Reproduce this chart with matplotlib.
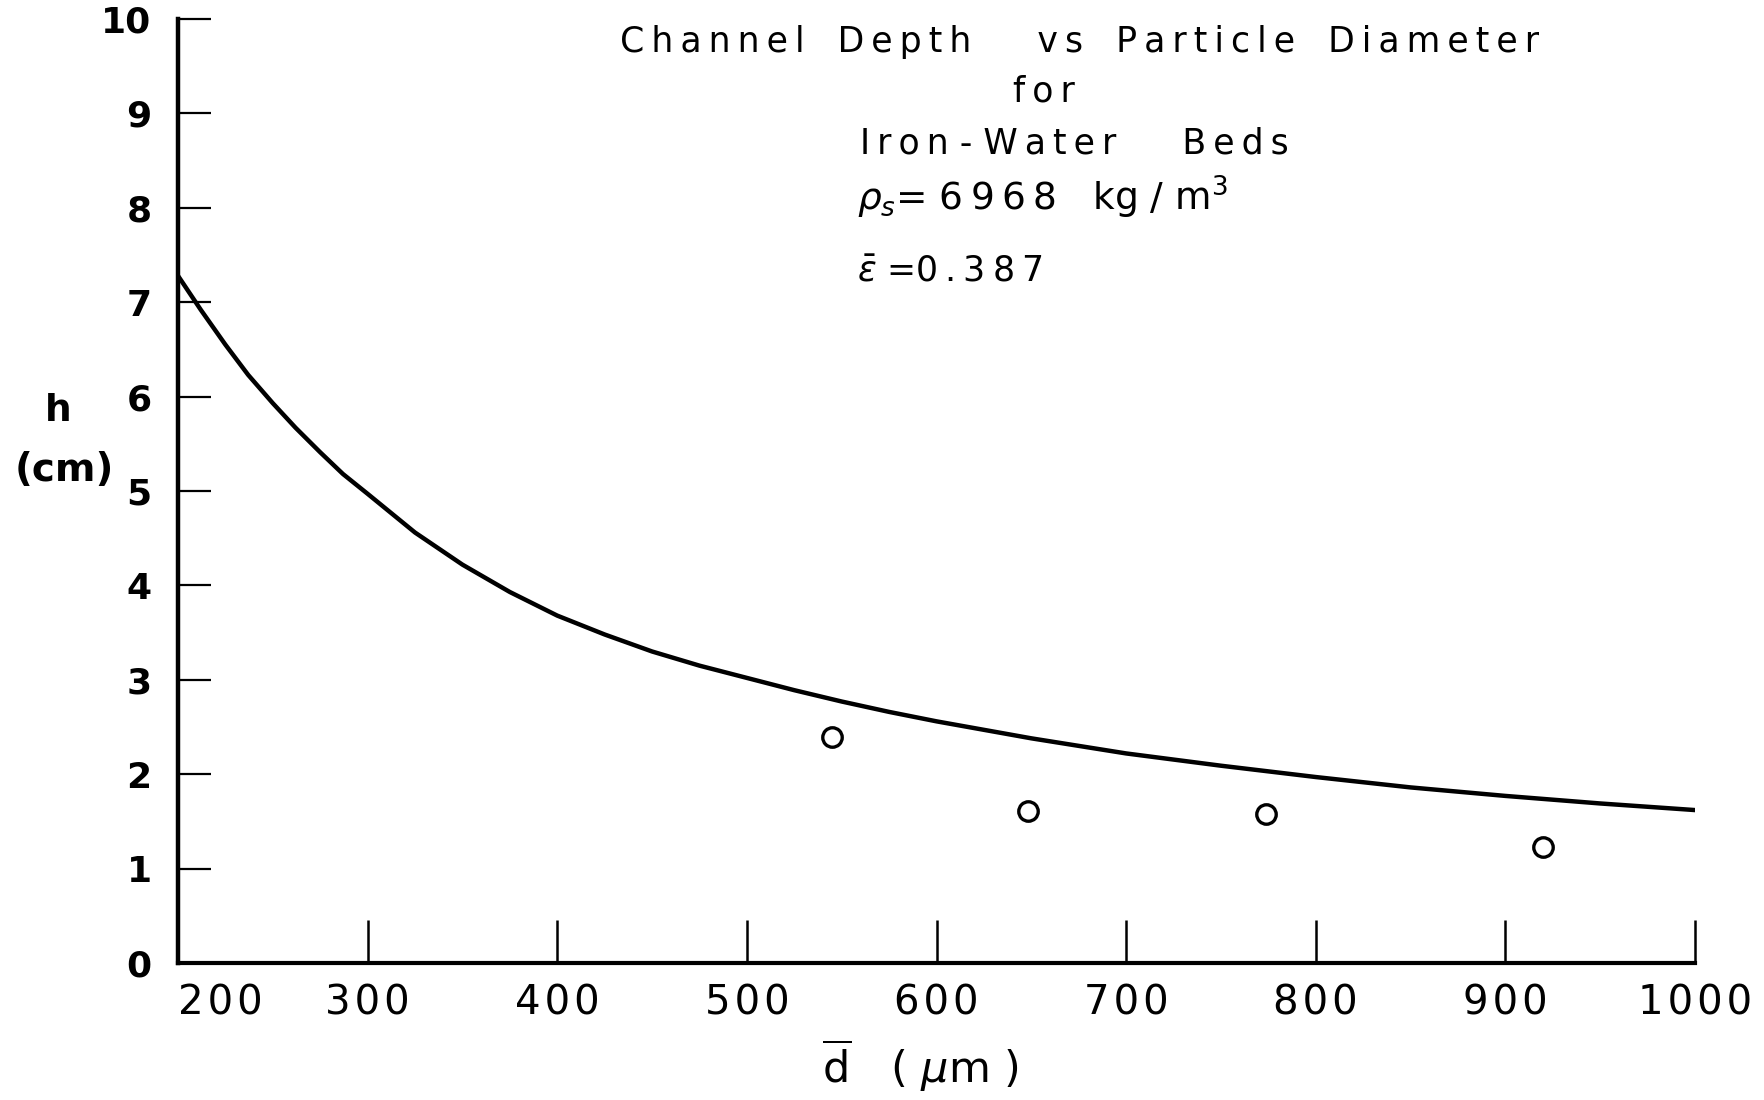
import matplotlib
matplotlib.use('Agg')
from matplotlib import pyplot as plt

plt.rcParams['font.family'] = ['DejaVu Sans']
plt.rcParams['mathtext.fontset'] = 'dejavusans'

# theory curve
curve_d = [200, 212, 225, 237, 250, 262, 275, 287, 300, 325, 350, 375, 400,
           425, 450, 475, 500, 525, 550, 575, 600, 650, 700, 750, 800, 850,
           900, 950, 1000]
curve_h = [7.28, 6.92, 6.55, 6.23, 5.93, 5.67, 5.41, 5.18, 4.97, 4.56, 4.22,
           3.93, 3.68, 3.48, 3.3, 3.15, 3.02, 2.89, 2.77, 2.66, 2.56, 2.38,
           2.22, 2.09, 1.97, 1.86, 1.77, 1.69, 1.62]

# measured points
meas_d = [545, 648, 774, 920]
meas_h = [2.39, 1.61, 1.58, 1.23]

x_ticks = [200, 300, 400, 500, 600, 700, 800, 900, 1000]
y_ticks = [0, 1, 2, 3, 4, 5, 6, 7, 8, 9, 10]

W, H = 1764, 1100
TS = '\u2009'
HS = '\u200a'


def spaced(s, gap=TS):
    # lettering-guide look: small space between letters
    return '   '.join(gap.join(w) for w in s.split(' '))


fig = plt.figure(figsize=(W / 100, H / 100), dpi=100)
ax = fig.add_axes([178 / W, 1 - 963 / H, (1695 - 178) / W, (963 - 19) / H])

ax.plot(curve_d, curve_h, color='black', lw=3.2, solid_capstyle='round',
        solid_joinstyle='round')
ax.plot(meas_d, meas_h, 'o', ms=14, mfc='white', mec='black', mew=2.4)

ax.set_xlim(200, 1000)
ax.set_ylim(0, 10)
ax.set_xticks(x_ticks)
ax.set_xticklabels([HS.join(str(v)) for v in x_ticks])
ax.set_yticks(y_ticks)
ax.spines['top'].set_visible(False)
ax.spines['right'].set_visible(False)
ax.spines['left'].set_linewidth(3.2)
ax.spines['bottom'].set_linewidth(3.0)
ax.tick_params(axis='y', direction='in', length=24, width=1.6, pad=19,
               labelsize=26)
ax.tick_params(axis='x', direction='in', length=31, width=1.8, pad=15,
               labelsize=29)
for lab in ax.get_yticklabels():
    lab.set_fontweight('bold')
ax.get_xticklabels()[0].set_horizontalalignment('left')

fig.text(58 / W, 1 - 411 / H, 'h', ha='center', va='center', fontsize=27,
         fontweight='bold')
fig.text(64 / W, 1 - 470 / H, '(cm)', ha='center', va='center', fontsize=28,
         fontweight='bold')
fig.text(920 / W, 1 - 1066 / H, r'$\overline{\mathrm{d}}$   ( $\mu$m )',
         ha='center', va='center', fontsize=31)

fig.text(1080 / W, 1 - 42 / H, spaced('Channel Depth  vs Particle Diameter'),
         ha='center', va='center', fontsize=25)
fig.text(1044 / W, 1 - 92 / H, spaced('for'), ha='center', va='center',
         fontsize=25)
fig.text(1074 / W, 1 - 143 / H, spaced('Iron') + ' - ' + spaced('Water  Beds'),
         ha='center', va='center', fontsize=25)
fig.text(857 / W, 1 - 197 / H,
         r'$\rho_s$= ' + spaced('6968') + '   kg / m$^3$', ha='left',
         va='center', fontsize=27)
fig.text(857 / W, 1 - 272 / H, r'$\bar{\epsilon}$ =' + spaced('0.387'),
         ha='left', va='center', fontsize=25)

fig.savefig('out.png', dpi=100, facecolor='white')
